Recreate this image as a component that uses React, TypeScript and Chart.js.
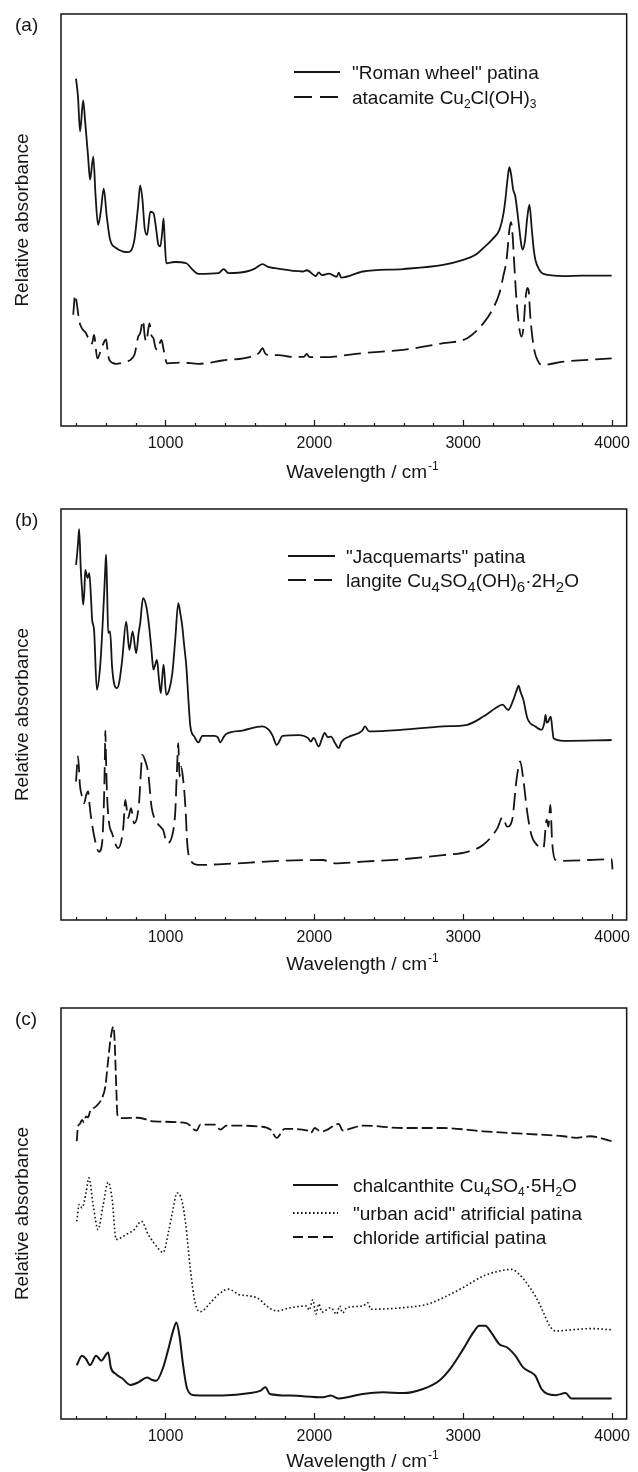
import React, { useEffect, useRef } from 'react';
import { Chart, registerables } from 'chart.js';

Chart.register(...registerables);

const FONT = '"Liberation Sans", Arial, Helvetica, sans-serif';
const INK = '#151515';

// axis
const X_MIN = 298;
const X_MAX = 4098;
const MAJOR_TICKS = [1000, 2000, 3000, 4000];
const MINOR_TICKS = [400, 600, 800, 1200, 1400, 1600, 1800, 2200, 2400, 2600, 2800, 3200, 3400, 3600, 3800];

// ---------- panel (a) ----------
const romanWn = [399, 412, 426, 447, 460, 480, 493, 515, 530, 547, 565, 585, 605, 628, 668, 710, 749, 790, 815, 830, 845, 860, 876, 898, 919, 938, 952, 965, 978, 987, 995, 1005, 1059, 1140, 1180, 1221, 1356, 1391, 1423, 1544, 1600, 1652, 1690, 1733, 1922, 1950, 2010, 2030, 2050, 2100, 2150, 2164, 2180, 2326, 2596, 2865, 3000, 3080, 3135, 3200, 3243, 3270, 3283, 3298, 3310, 3322, 3335, 3350, 3370, 3390, 3399, 3415, 3430, 3445, 3460, 3475, 3485, 3510, 3539, 3674, 3800, 3997];
const romanAbs = [84.3, 80, 71.5, 79, 74, 65.4, 59.8, 65.4, 56, 48.8, 52, 57.6, 51, 45.2, 43.2, 42.4, 42.2, 45, 53, 58.4, 55, 48, 46.4, 52, 51.7, 47.6, 44, 43.6, 47, 50.4, 45, 39.5, 39.8, 39.5, 38, 36.9, 37.1, 38.1, 37.1, 37.5, 38.2, 39.3, 38.6, 38.3, 37.5, 37.8, 36.4, 37.3, 36.6, 37, 36.2, 37.2, 36.0, 37.5, 38.1, 39.1, 40.3, 41.5, 43.2, 45.5, 47.6, 51.5, 54.9, 60, 62.8, 61, 57.5, 55.7, 50, 44, 42.8, 45, 50.5, 53.7, 48, 42.5, 40.3, 38, 36.9, 36.4, 36.5, 36.5];

const atacWn = [380, 393, 407, 420, 439, 466, 480, 493, 506, 520, 542, 574, 601, 612, 623, 668, 720, 790, 817, 830, 849, 860, 871, 892, 905, 919, 933, 946, 960, 973, 985, 992, 1011, 1113, 1221, 1383, 1571, 1630, 1652, 1670, 1693, 1760, 1841, 1930, 1949, 1965, 2057, 2326, 2596, 2865, 3027, 3135, 3200, 3243, 3270, 3291, 3310, 3320, 3329, 3345, 3358, 3391, 3405, 3418, 3430, 3439, 3450, 3464, 3480, 3499, 3526, 3674, 3997];
const atacAbs = [27, 31.8, 29, 25.5, 23.7, 22.5, 21.5, 21.3, 20, 22.1, 16.4, 19.3, 21, 18, 16, 15.1, 15.5, 17.2, 21.7, 22.5, 25.6, 22, 20.5, 24.9, 22, 21.3, 19, 18.5, 20, 20.9, 19, 17.7, 15.2, 15.4, 15.1, 15.9, 16.8, 17.8, 18.9, 17.6, 17.2, 17.2, 16.8, 16.8, 17.5, 16.8, 16.7, 17.7, 18.5, 20.1, 21.3, 24.9, 28.5, 32.2, 36.5, 40.3, 47.6, 49.5, 47.6, 38, 30.6, 21.7, 24, 30.6, 33.5, 33, 27, 21.7, 18, 16, 14.8, 15.6, 16.4];

// ---------- panel (b) ----------
const jacqWn = [399, 407, 413, 420, 431, 440, 447, 455, 461, 477, 488, 500, 507, 520, 539, 561, 575, 588, 596, 601, 608, 615, 628, 641, 655, 674, 690, 709, 736, 757, 779, 803, 820, 830, 849, 871, 890, 905, 919, 930, 943, 955, 968, 978, 987, 1005, 1025, 1046, 1065, 1086, 1100, 1113, 1125, 1140, 1155, 1167, 1194, 1221, 1248, 1329, 1350, 1369, 1390, 1410, 1518, 1652, 1693, 1720, 1747, 1787, 1895, 1960, 1976, 1995, 2030, 2050, 2070, 2090, 2111, 2140, 2164, 2180, 2200, 2245, 2320, 2340, 2367, 2596, 2865, 3027, 3135, 3216, 3264, 3302, 3337, 3360, 3372, 3385, 3404, 3431, 3485, 3526, 3545, 3553, 3562, 3572, 3580, 3588, 3600, 3607, 3674, 3997];
const jacqAbs = [86.4, 89.3, 92, 95.1, 85.2, 80, 76.7, 80, 85.2, 83.2, 84.4, 78, 73.1, 70.6, 56, 61.7, 70, 79.5, 86, 88.9, 80, 69.8, 70.2, 61.7, 57.5, 56.4, 58, 63.3, 72.6, 65.7, 70.2, 64.9, 70, 72.2, 78.3, 76.3, 71.4, 66, 60.9, 62, 63.3, 59, 55.2, 59, 62.1, 54.8, 56, 60.1, 68, 77.1, 74.5, 71.4, 67, 61.7, 53, 47.1, 44.6, 43.2, 44.8, 44.8, 44.5, 43.2, 44.5, 45.3, 46.1, 47.1, 46.3, 44.8, 42.6, 44.8, 45, 44.2, 43.4, 44.3, 42.2, 44, 45.5, 44.5, 44.6, 43, 41.8, 43.2, 44, 44.8, 46, 47.1, 45.9, 46.3, 47.1, 47.5, 49.5, 51.5, 52.4, 51.1, 53.6, 56, 57, 55.5, 53.6, 49.1, 47.1, 46.3, 48, 49.9, 48, 48.3, 49, 49.5, 46, 44.2, 43.6, 43.8];

const langWn = [399, 412, 426, 440, 453, 468, 480, 490, 499, 526, 553, 574, 588, 593, 596, 600, 607, 620, 641, 682, 717, 730, 749, 768, 790, 822, 835, 844, 865, 884, 906, 925, 946, 965, 984, 1011, 1046, 1065, 1078, 1086, 1094, 1105, 1119, 1135, 1146, 1167, 1221, 1383, 1787, 2057, 2137, 2326, 2596, 2865, 3027, 3135, 3229, 3264, 3296, 3329, 3358, 3383, 3404, 3431, 3458, 3485, 3539, 3561, 3572, 3585, 3598, 3620, 3674, 3997, 4003];
const langAbs = [33.7, 39.8, 32.5, 30, 28.4, 30.5, 31.3, 28, 25.2, 19.5, 16.6, 18.7, 30.8, 40, 46.1, 40, 30.8, 23.9, 21.1, 17.5, 22.7, 29.2, 24.8, 27.2, 23.5, 28.4, 36, 40.2, 38.6, 35.7, 27.6, 24.8, 23.5, 22.7, 21.9, 18.7, 20.7, 26, 37.3, 43, 34.9, 37.3, 34.1, 26.8, 18.7, 14.6, 13.4, 13.6, 14.4, 14.6, 13.8, 14.2, 14.8, 15.8, 16.6, 18.3, 22.3, 25, 22.7, 24.4, 34.1, 38.6, 34.1, 26, 20.7, 18.7, 17.5, 24.4, 22.7, 28, 18.7, 14.6, 14.4, 14.8, 12.3];

// ---------- panel (c) ----------
const chloWn = [404, 412, 425, 439, 452, 466, 480, 493, 534, 574, 596, 615, 633, 650, 657, 663, 670, 677, 709, 817, 925, 1140, 1208, 1235, 1329, 1369, 1410, 1625, 1706, 1747, 1801, 1949, 1976, 2003, 2030, 2057, 2164, 2190, 2218, 2326, 2596, 2865, 3135, 3404, 3674, 3760, 3850, 3997];
const chloAbs = [67.6, 71.2, 71.8, 72.8, 72.2, 73.6, 73.4, 74.8, 76.1, 78.1, 80.9, 87.4, 93, 95.5, 93, 87.4, 80, 74, 73.2, 73.3, 72.4, 72, 70.2, 71.6, 71.6, 70.4, 71.4, 71.2, 70.4, 68.4, 70.6, 70.2, 69.6, 70.8, 70.2, 70, 71.8, 70.2, 70.4, 71.4, 70.8, 70.8, 70, 69.4, 68.8, 68.4, 68.8, 67.6];

const urbanWn = [404, 420, 439, 466, 485, 515, 547, 580, 615, 642, 668, 736, 790, 838, 884, 938, 984, 1019, 1046, 1078, 1108, 1135, 1167, 1199, 1234, 1302, 1356, 1423, 1491, 1571, 1625, 1679, 1747, 1841, 1949, 1965, 1990, 2010, 2030, 2050, 2111, 2150, 2170, 2190, 2218, 2326, 2358, 2380, 2596, 2757, 2865, 3000, 3135, 3243, 3323, 3377, 3431, 3485, 3539, 3580, 3620, 3728, 3863, 3997];
const urbanAbs = [48.1, 52.2, 51.4, 55, 58.7, 51.8, 46.1, 51.8, 57.6, 53.4, 43.7, 44.9, 46.1, 48.1, 44.9, 42.1, 40.5, 45.3, 50.2, 55, 53.4, 47.7, 36.4, 28.3, 26.1, 28.3, 30.3, 31.6, 30.3, 29.9, 29.3, 27.5, 26.3, 27.1, 27.5, 26.5, 29, 25.5, 28, 26, 27.1, 25.5, 27.5, 25.8, 27.1, 27.5, 28.3, 26.7, 27.1, 27.9, 29.5, 32, 34.8, 36, 36.4, 35.2, 32.8, 29.9, 25.9, 22.7, 21.4, 21.7, 22, 21.7];

const chalcWn = [404, 439, 466, 493, 534, 569, 615, 633, 668, 709, 763, 817, 876, 911, 938, 984, 1019, 1054, 1073, 1094, 1119, 1146, 1194, 1383, 1571, 1639, 1671, 1701, 1841, 2057, 2111, 2164, 2326, 2461, 2596, 2730, 2838, 2919, 3000, 3067, 3108, 3148, 3189, 3243, 3296, 3350, 3404, 3458, 3485, 3526, 3566, 3620, 3687, 3728, 3997];
const chalcAbs = [13.1, 15.4, 14.6, 13.1, 15.4, 14.2, 16.2, 12.5, 10.9, 9.9, 8.3, 8.9, 10.1, 9.5, 9.3, 12.5, 17, 21.8, 23.5, 20.2, 12.9, 7.3, 5.8, 5.7, 6.3, 6.9, 7.7, 6.1, 5.7, 5.3, 5.7, 5, 6.1, 6.5, 6.3, 7.3, 9.3, 12.5, 17, 21, 22.7, 22.7, 21, 18.2, 17.4, 15.4, 12.5, 11.3, 10.5, 7.3, 6.1, 5.8, 6.3, 5, 5];

// legend labels (segments; sub = subscript)
type Seg = { t: string; sub?: boolean };
const legendA: Seg[][] = [
  [{ t: '"Roman wheel" patina' }],
  [{ t: 'atacamite Cu' }, { t: '2', sub: true }, { t: 'Cl(OH)' }, { t: '3', sub: true }],
];
const legendB: Seg[][] = [
  [{ t: '"Jacquemarts" patina' }],
  [{ t: 'langite Cu' }, { t: '4', sub: true }, { t: 'SO' }, { t: '4', sub: true }, { t: '(OH)' }, { t: '6', sub: true }, { t: '·2H' }, { t: '2', sub: true }, { t: 'O' }],
];
const legendC: Seg[][] = [
  [{ t: 'chalcanthite Cu' }, { t: '4', sub: true }, { t: 'SO' }, { t: '4', sub: true }, { t: '·5H' }, { t: '2', sub: true }, { t: 'O' }],
  [{ t: '"urban acid" atrificial patina' }],
  [{ t: 'chloride artificial patina' }],
];

const SOLID: number[] = [];
const LONG_DASH = [17, 7];
const SHORT_DASH = [11, 4];
const DOTS = [1.6, 2.4];

type Series = { wn: number[]; abs: number[]; dash: number[]; width: number };
type LegendCfg = { rows: Seg[][]; dashes: number[][]; x0: number; x1: number; tx: number; ys: number[]; subSize: number; subDy: number };

type PanelProps = {
  top: number;
  height: number;
  plotBottom: number;
  label: string;
  series: Series[];
  legend: LegendCfg;
  titleDy: number;
};

function Panel({ top, height, plotBottom, label, series, legend, titleDy }: PanelProps) {
  const ref = useRef<HTMLCanvasElement>(null);
  useEffect(() => {
    const canvas = ref.current!;
    const decor = {
      id: 'decor',
      afterDraw(chart: any) {
        const ctx = chart.ctx as CanvasRenderingContext2D;
        const a = chart.chartArea;
        const xs = chart.scales.x;
        ctx.save();
        // frame
        ctx.strokeStyle = INK;
        ctx.lineWidth = 1.5;
        ctx.setLineDash([]);
        ctx.strokeRect(a.left, a.top, a.right - a.left, a.bottom - a.top);
        // inward ticks
        ctx.lineWidth = 1.2;
        ctx.beginPath();
        for (const v of MAJOR_TICKS) {
          const px = Math.round(xs.getPixelForValue(v)) + 0.5;
          ctx.moveTo(px, a.bottom);
          ctx.lineTo(px, a.bottom - 6);
        }
        for (const v of MINOR_TICKS) {
          const px = Math.round(xs.getPixelForValue(v)) + 0.5;
          ctx.moveTo(px, a.bottom);
          ctx.lineTo(px, a.bottom - 3);
        }
        ctx.stroke();
        ctx.fillStyle = INK;
        // panel label
        ctx.font = `19px ${FONT}`;
        ctx.textBaseline = 'middle';
        ctx.textAlign = 'left';
        ctx.fillText(label, 15, 26);
        // x title with superscript
        ctx.textBaseline = 'alphabetic';
        const main = 'Wavelength / cm';
        ctx.font = `19px ${FONT}`;
        const w = ctx.measureText(main).width;
        ctx.font = `12px ${FONT}`;
        const ws = ctx.measureText('-1').width;
        const x0 = 362 - (w + ws) / 2;
        const base = a.bottom + titleDy + 7;
        ctx.font = `19px ${FONT}`;
        ctx.fillText(main, x0, base);
        ctx.font = `12px ${FONT}`;
        ctx.fillText('-1', x0 + w + 1, base - 8);
        // legend
        legend.rows.forEach((segs, i) => {
          const y = legend.ys[i];
          ctx.beginPath();
          ctx.lineWidth = 2;
          ctx.setLineDash(legend.dashes[i]);
          ctx.moveTo(legend.x0, y);
          ctx.lineTo(legend.x1, y);
          ctx.stroke();
          ctx.setLineDash([]);
          let x = legend.tx;
          const baseY = y + 7;
          for (const s of segs) {
            ctx.font = `${s.sub ? legend.subSize : 19}px ${FONT}`;
            ctx.fillText(s.t, x, baseY + (s.sub ? legend.subDy : 0));
            x += ctx.measureText(s.t).width;
          }
        });
        ctx.restore();
      },
    };
    const chart = new Chart(canvas, {
      type: 'line',
      data: {
        datasets: series.map((s) => ({
          data: s.wn.map((x, i) => ({ x, y: s.abs[i] })),
          borderColor: INK,
          borderWidth: s.width,
          borderDash: s.dash,
          pointRadius: 0,
          fill: false,
          cubicInterpolationMode: 'monotone' as const,
        })),
      },
      options: {
        responsive: false,
        animation: false,
        devicePixelRatio: 1,
        layout: { padding: { top: 14, left: 0, right: 5, bottom: 0 } },
        plugins: { legend: { display: false }, tooltip: { enabled: false } },
        scales: {
          x: {
            type: 'linear',
            min: X_MIN,
            max: X_MAX,
            position: 'bottom',
            grid: { display: false, drawTicks: false },
            border: { display: false },
            ticks: {
              font: { family: FONT, size: 16 },
              color: INK,
              padding: 8,
              maxRotation: 0,
              autoSkip: false,
              callback: (v: any) => String(v),
            },
            afterBuildTicks: (s: any) => {
              s.ticks = MAJOR_TICKS.map((v) => ({ value: v }));
            },
            afterFit: (s: any) => {
              s.height = height - plotBottom;
            },
          },
          y: {
            min: 0,
            max: 100,
            position: 'left',
            grid: { display: false, drawTicks: false },
            border: { display: false },
            ticks: { display: false },
            title: {
              display: true,
              text: 'Relative absorbance',
              font: { family: FONT, size: 19 },
              color: INK,
              padding: { top: 11, bottom: 0 },
            },
            afterFit: (s: any) => {
              s.width = 61;
            },
          },
        },
      },
      plugins: [decor],
    } as any);
    return () => chart.destroy();
  }, []);
  return (
    <canvas
      ref={ref}
      width={638}
      height={height}
      style={{ position: 'absolute', left: 0, top, width: 638, height, display: 'block' }}
    />
  );
}

export default function App() {
  return (
    <div style={{ position: 'absolute', left: 0, top: 0, width: 638, height: 1472, background: '#fff' }}>
      <Panel
        top={0}
        height={494}
        plotBottom={426}
        label="(a)"
        titleDy={45}
        series={[
          { wn: romanWn, abs: romanAbs, dash: SOLID, width: 1.8 },
          { wn: atacWn, abs: atacAbs, dash: LONG_DASH, width: 1.8 },
        ]}
        legend={{ rows: legendA, dashes: [SOLID, [18, 8]], x0: 294, x1: 340, tx: 352, ys: [72, 97], subSize: 12, subDy: 4 }}
      />
      <Panel
        top={495}
        height={498}
        plotBottom={425}
        label="(b)"
        titleDy={43}
        series={[
          { wn: jacqWn, abs: jacqAbs, dash: SOLID, width: 1.8 },
          { wn: langWn, abs: langAbs, dash: LONG_DASH, width: 1.8 },
        ]}
        legend={{ rows: legendB, dashes: [SOLID, [18, 8]], x0: 288, x1: 335, tx: 346, ys: [61, 85], subSize: 15, subDy: 5 }}
      />
      <Panel
        top={994}
        height={478}
        plotBottom={425}
        label="(c)"
        titleDy={41}
        series={[
          { wn: chalcWn, abs: chalcAbs, dash: SOLID, width: 2 },
          { wn: urbanWn, abs: urbanAbs, dash: DOTS, width: 1.6 },
          { wn: chloWn, abs: chloAbs, dash: SHORT_DASH, width: 1.8 },
        ]}
        legend={{ rows: legendC, dashes: [SOLID, [1.6, 2.4], [10, 5]], x0: 293, x1: 338, tx: 353, ys: [191, 219, 243], subSize: 12, subDy: 4 }}
      />
    </div>
  );
}
